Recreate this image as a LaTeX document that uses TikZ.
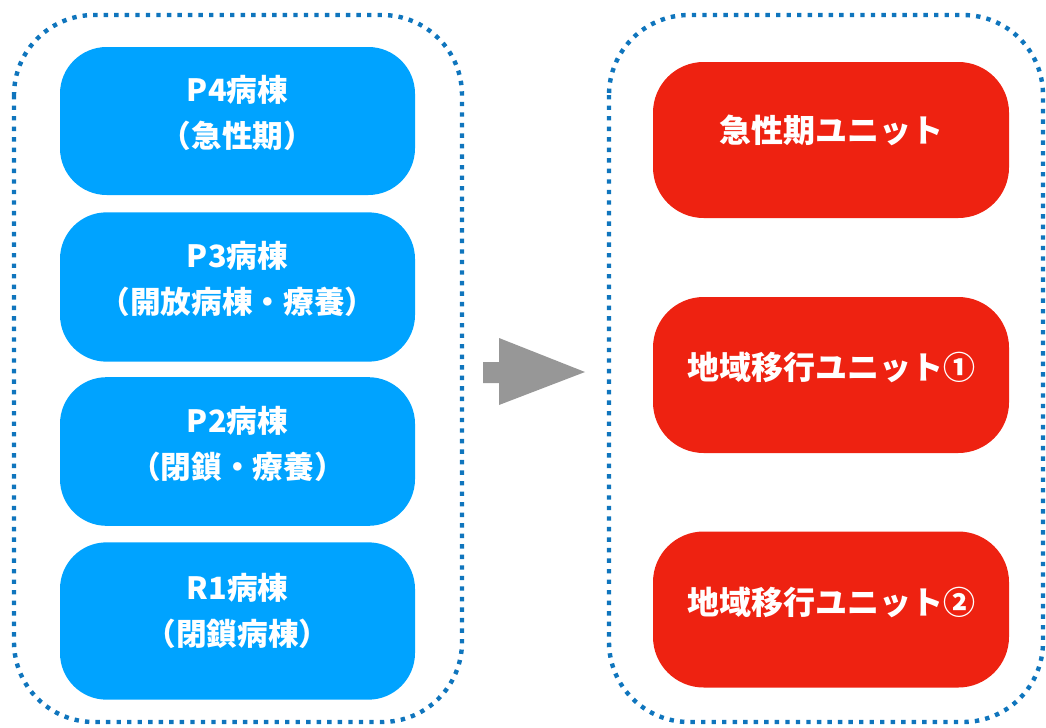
\documentclass[tikz,border=0pt]{standalone}
\usepackage{fontspec}
\newfontfamily\jpbold{Noto Sans CJK JP Black}
\definecolor{bluebox}{HTML}{00A3FF}
\definecolor{redbox}{HTML}{EE2211}
\definecolor{dotblue}{HTML}{0F75BD}
\definecolor{arrowgray}{HTML}{979797}
\begin{document}
\begin{tikzpicture}[x=0.75pt,y=-0.75pt,
  container/.style={draw=dotblue,line width=3.3pt,dash pattern=on 3.3pt off 4.6pt,rounded corners=60pt},
  wardbox/.style={fill=bluebox,rounded corners=35pt,minimum width=266.25pt,inner sep=0pt},
  unitbox/.style={fill=redbox,rounded corners=38pt,minimum width=267pt,minimum height=117pt,inner sep=0pt},
  label/.style={text=white,font=\jpbold\fontsize{23}{34.5}\selectfont,align=center,inner sep=0pt},
  ulabel/.style={label,font=\jpbold\fontsize{24}{34.5}\selectfont}]
\useasboundingbox (0,0) rectangle (1046,728);
% containers
\draw[container] (14,15) rectangle (462,722);
\draw[container] (609,15) rectangle (1043,722);
% blue boxes
\node[wardbox,minimum height=111pt] (p4) at (237.5,121) {};
\node[wardbox,minimum height=112pt] (p3) at (237.5,287) {};
\node[wardbox,minimum height=111.5pt] (p2) at (237.5,451.5) {};
\node[wardbox,minimum height=118pt] (r1) at (237.5,621) {};
\node[label] (p4t) at (237.5,113) {P4病棟\\（急性期）};
\node[label] (p3t) at (237.5,279) {P3病棟\\（開放病棟・療養）};
\node[label] (p2t) at (237.5,444) {P2病棟\\（閉鎖・療養）};
\node[label] (r1t) at (237.5,611) {R1病棟\\（閉鎖病棟）};
% red boxes
\node[unitbox] (u1) at (831,140) {};
\node[unitbox] (u2) at (831,375) {};
\node[unitbox] (u3) at (831,609.5) {};
\node[ulabel] (u1t) at (831,130) {急性期ユニット};
\node[ulabel] (u2t) at (831,367) {地域移行ユニット①};
\node[ulabel] (u3t) at (831,602) {地域移行ユニット②};
% arrow
\fill[arrowgray] (483,362) -- (499,362) -- (499,338) -- (585,372) -- (499,405) -- (499,383) -- (483,383) -- cycle;
\end{tikzpicture}
\end{document}
